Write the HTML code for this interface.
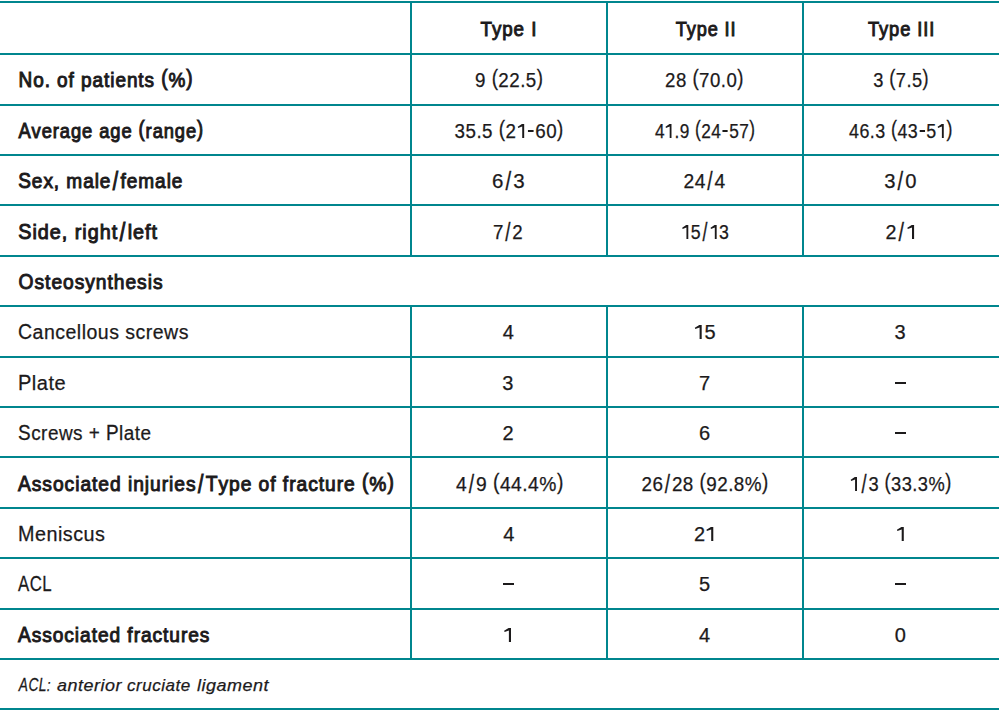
<!DOCTYPE html>
<html><head><meta charset="utf-8"><style>
html,body{margin:0;padding:0;background:#fff;}
body{width:1000px;height:713px;position:relative;overflow:hidden;font-family:"Liberation Sans",sans-serif;color:#1c1a1b;font-size:20px;}
.h{position:absolute;left:0;width:999px;height:2px;background:#00868e;}
.v{position:absolute;width:2px;background:#00868e;}
.t{position:absolute;white-space:nowrap;line-height:20px;height:20px;-webkit-text-stroke:0.25px #1c1a1b;letter-spacing:0.5px;}
.b{font-weight:normal;-webkit-text-stroke:0.95px #1c1a1b;letter-spacing:1px;}
.c{width:194px;text-align:center;}
.d{position:absolute;height:2px;background:#1c1a1b;}
.f{font-style:italic;}
.sl{display:inline-block;margin:0 1.5px;transform:scaleY(1.27);}
.hy{display:inline-block;width:6px;height:2px;background:#1c1a1b;vertical-align:6px;margin:0 1.5px;}
.one{vertical-align:baseline;fill:#1c1a1b;}
.cp{display:inline-block;transform:scaleY(1.07);transform-origin:50% 16.93px;}
.pa{display:inline-block;transform:translateY(-3px) scaleY(1.14);}
</style></head><body>

<div class="h" style="top:1px"></div>
<div class="h" style="top:53px"></div>
<div class="h" style="top:104px"></div>
<div class="h" style="top:154px"></div>
<div class="h" style="top:204px"></div>
<div class="h" style="top:255px"></div>
<div class="h" style="top:305px"></div>
<div class="h" style="top:356px"></div>
<div class="h" style="top:406px"></div>
<div class="h" style="top:456px"></div>
<div class="h" style="top:507px"></div>
<div class="h" style="top:557px"></div>
<div class="h" style="top:608px"></div>
<div class="h" style="top:658px"></div>
<div class="h" style="top:708px"></div>
<div class="v" style="left:410px;top:1px;height:256px"></div>
<div class="v" style="left:410px;top:305px;height:355px"></div>
<div class="v" style="left:606px;top:1px;height:256px"></div>
<div class="v" style="left:606px;top:305px;height:355px"></div>
<div class="v" style="left:802px;top:1px;height:256px"></div>
<div class="v" style="left:802px;top:305px;height:355px"></div>
<div class="t b c" style="left:412px;top:19.07px;transform:translateX(1.80px) scaleX(0.9379);transform-origin:67.00px 50%;">Type I</div>
<div class="t b c" style="left:608px;top:19.07px;transform:translateX(4.30px) scaleX(0.9062);transform-origin:63.00px 50%;">Type II</div>
<div class="t b c" style="left:804px;top:19.07px;transform:translateX(3.70px) scaleX(0.9155);transform-origin:60.00px 50%;">Type III</div>
<div class="t b" style="left:18px;top:70.07px;transform:translateX(0.50px) scaleX(0.9478);transform-origin:1.00px 50%;"><span class="cp">N</span>o. of patients <span class="pa">(</span>%<span class="pa">)</span></div>
<div class="t c" style="left:412px;top:70.07px;transform:translateX(2.50px) scaleX(0.9380);transform-origin:61.00px 50%;">9 <span class="pa">(</span>22.5<span class="pa">)</span></div>
<div class="t c" style="left:608px;top:70.07px;transform:translateX(2.30px) scaleX(0.9317);transform-origin:56.00px 50%;">28 <span class="pa">(</span>70.0<span class="pa">)</span></div>
<div class="t c" style="left:804px;top:70.07px;transform:translateX(2.80px) scaleX(0.9119);transform-origin:67.00px 50%;">3 <span class="pa">(</span>7.5<span class="pa">)</span></div>
<div class="t b" style="left:18px;top:121.07px;transform:translateX(0.40px) scaleX(0.9174);transform-origin:0.00px 50%;"><span class="cp">A</span>verage age <span class="pa">(</span>range<span class="pa">)</span></div>
<div class="t c" style="left:412px;top:121.07px;transform:translateX(3.70px) scaleX(0.9391);transform-origin:39.00px 50%;">35.5 <span class="pa">(</span>2<svg class="one" width="11.12" height="16" viewBox="0 0 11.12 16"><path d="M8 2V16H5.9V4.4L1.6 6.1L1.1 4.8L5.6 2Z"/></svg><span class="hy"></span>60<span class="pa">)</span></div>
<div class="t c" style="left:608px;top:121.07px;transform:translateX(8.10px) scaleX(0.8635);transform-origin:39.00px 50%;">4<svg class="one" width="11.12" height="16" viewBox="0 0 11.12 16"><path d="M8 2V16H5.9V4.4L1.6 6.1L1.1 4.8L5.6 2Z"/></svg>.9 <span class="pa">(</span>24<span class="hy"></span>57<span class="pa">)</span></div>
<div class="t c" style="left:804px;top:121.07px;transform:translateX(6.20px) scaleX(0.8922);transform-origin:39.00px 50%;">46.3 <span class="pa">(</span>43<span class="hy"></span>5<svg class="one" width="11.12" height="16" viewBox="0 0 11.12 16"><path d="M8 2V16H5.9V4.4L1.6 6.1L1.1 4.8L5.6 2Z"/></svg><span class="pa">)</span></div>
<div class="t b" style="left:18px;top:171.07px;transform:translateX(0.20px) scaleX(0.9517);transform-origin:0.00px 50%;"><span class="cp">S</span>ex, male<span class="sl">/</span>female</div>
<div class="t c" style="left:412px;top:171.07px;transform:translateX(-0.70px) scaleX(1.0233);transform-origin:82.00px 50%;">6<span class="sl">/</span>3</div>
<div class="t c" style="left:608px;top:171.07px;transform:translateX(0.40px) scaleX(0.9619);transform-origin:76.00px 50%;">24<span class="sl">/</span>4</div>
<div class="t c" style="left:804px;top:171.07px;transform:translateX(-0.50px) scaleX(1.0097);transform-origin:81.00px 50%;">3<span class="sl">/</span>0</div>
<div class="t b" style="left:18px;top:222.07px;transform:translateX(0.20px) scaleX(0.9894);transform-origin:0.00px 50%;"><span class="cp">S</span>ide, right<span class="sl">/</span>left</div>
<div class="t c" style="left:412px;top:222.07px;transform:translateX(0.10px) scaleX(0.9333);transform-origin:82.00px 50%;">7<span class="sl">/</span>2</div>
<div class="t c" style="left:608px;top:222.07px;transform:translateX(3.10px) scaleX(0.8865);transform-origin:71.00px 50%;"><svg class="one" width="11.12" height="16" viewBox="0 0 11.12 16"><path d="M8 2V16H5.9V4.4L1.6 6.1L1.1 4.8L5.6 2Z"/></svg>5<span class="sl">/</span><svg class="one" width="11.12" height="16" viewBox="0 0 11.12 16"><path d="M8 2V16H5.9V4.4L1.6 6.1L1.1 4.8L5.6 2Z"/></svg>3</div>
<div class="t c" style="left:804px;top:222.07px;transform:translateX(0.50px) scaleX(0.9857);transform-origin:82.00px 50%;">2<span class="sl">/</span><svg class="one" width="11.12" height="16" viewBox="0 0 11.12 16"><path d="M8 2V16H5.9V4.4L1.6 6.1L1.1 4.8L5.6 2Z"/></svg></div>
<div class="t b" style="left:18px;top:272.07px;transform:translateX(0.60px) scaleX(0.9611);transform-origin:0.00px 50%;"><span class="cp">O</span>steosynthesis</div>
<div class="t" style="left:18px;top:322.07px;transform:translateX(0.00px) scaleX(0.9751);transform-origin:1.00px 50%;"><span class="cp">C</span>ancellous screws</div>
<div class="t c" style="left:412px;top:322.07px;transform:translateX(-0.45px) scaleX(1.0000);transform-origin:92.00px 50%;">4</div>
<div class="t c" style="left:608px;top:322.07px;transform:translateX(-0.30px) scaleX(1.0000);transform-origin:87.00px 50%;"><svg class="one" width="11.12" height="16" viewBox="0 0 11.12 16"><path d="M8 2V16H5.9V4.4L1.6 6.1L1.1 4.8L5.6 2Z"/></svg>5</div>
<div class="t c" style="left:804px;top:322.07px;transform:translateX(-0.80px) scaleX(1.0000);transform-origin:92.00px 50%;">3</div>
<div class="t" style="left:18px;top:373.07px;transform:translateX(0.00px) scaleX(1.0022);transform-origin:1.00px 50%;"><span class="cp">P</span>late</div>
<div class="t c" style="left:412px;top:373.07px;transform:translateX(-0.85px) scaleX(1.0000);transform-origin:92.00px 50%;">3</div>
<div class="t c" style="left:608px;top:373.07px;transform:translateX(-0.30px) scaleX(1.0000);transform-origin:92.00px 50%;">7</div>
<div class="d" style="left:895px;top:382px;width:11px"></div>
<div class="t" style="left:18px;top:423.07px;transform:translateX(0.00px) scaleX(0.9468);transform-origin:1.00px 50%;"><span class="cp">S</span>crews + <span class="cp">P</span>late</div>
<div class="t c" style="left:412px;top:423.07px;transform:translateX(-0.75px) scaleX(1.0000);transform-origin:92.00px 50%;">2</div>
<div class="t c" style="left:608px;top:423.07px;transform:translateX(-0.30px) scaleX(1.0000);transform-origin:92.00px 50%;">6</div>
<div class="d" style="left:895px;top:432px;width:11px"></div>
<div class="t b" style="left:18px;top:474.07px;transform:translateX(0.00px) scaleX(0.9610);transform-origin:0.00px 50%;"><span class="cp">A</span>ssociated injuries<span class="sl">/</span><span class="cp">T</span>ype of fracture <span class="pa">(</span>%<span class="pa">)</span></div>
<div class="t c" style="left:412px;top:474.07px;transform:translateX(3.00px) scaleX(0.9627);transform-origin:41.00px 50%;">4<span class="sl">/</span>9 <span class="pa">(</span>44.4%<span class="pa">)</span></div>
<div class="t c" style="left:608px;top:474.07px;transform:translateX(4.00px) scaleX(0.9421);transform-origin:30.00px 50%;">26<span class="sl">/</span>28 <span class="pa">(</span>92.8%<span class="pa">)</span></div>
<div class="t c" style="left:804px;top:474.07px;transform:translateX(4.60px) scaleX(0.9138);transform-origin:42.00px 50%;"><svg class="one" width="11.12" height="16" viewBox="0 0 11.12 16"><path d="M8 2V16H5.9V4.4L1.6 6.1L1.1 4.8L5.6 2Z"/></svg><span class="sl">/</span>3 <span class="pa">(</span>33.3%<span class="pa">)</span></div>
<div class="t" style="left:18px;top:524.07px;transform:translateX(0.00px) scaleX(0.9884);transform-origin:1.00px 50%;"><span class="cp">M</span>eniscus</div>
<div class="t c" style="left:412px;top:524.07px;">4</div>
<div class="t c" style="left:608px;top:524.07px;transform:translateX(0.30px) scaleX(1.0000);transform-origin:87.00px 50%;">2<svg class="one" width="11.12" height="16" viewBox="0 0 11.12 16"><path d="M8 2V16H5.9V4.4L1.6 6.1L1.1 4.8L5.6 2Z"/></svg></div>
<div class="t c" style="left:804px;top:524.07px;transform:translateX(0.80px) scaleX(1.0000);transform-origin:92.00px 50%;"><svg class="one" width="11.12" height="16" viewBox="0 0 11.12 16"><path d="M8 2V16H5.9V4.4L1.6 6.1L1.1 4.8L5.6 2Z"/></svg></div>
<div class="t" style="left:18px;top:574.07px;transform:translateX(0.00px) scaleX(0.8410);transform-origin:0.00px 50%;"><span class="cp">A</span><span class="cp">C</span><span class="cp">L</span></div>
<div class="d" style="left:503px;top:583px;width:11px"></div>
<div class="t c" style="left:608px;top:574.07px;transform:translateX(-0.10px) scaleX(1.0000);transform-origin:92.00px 50%;">5</div>
<div class="d" style="left:895px;top:583px;width:11px"></div>
<div class="t b" style="left:18px;top:625.07px;transform:translateX(0.00px) scaleX(0.9560);transform-origin:0.00px 50%;"><span class="cp">A</span>ssociated fractures</div>
<div class="t c" style="left:412px;top:625.07px;"><svg class="one" width="11.12" height="16" viewBox="0 0 11.12 16"><path d="M8 2V16H5.9V4.4L1.6 6.1L1.1 4.8L5.6 2Z"/></svg></div>
<div class="t c" style="left:608px;top:625.07px;transform:translateX(-0.20px) scaleX(1.0000);transform-origin:92.00px 50%;">4</div>
<div class="t c" style="left:804px;top:625.07px;transform:translateX(-0.40px) scaleX(1.0000);transform-origin:92.00px 50%;">0</div>
<div class="t f" style="left:19.10px;top:676.11px;font-size:17px;transform:scaleX(0.8100);transform-origin:-1.00px 50%"><span class="cp">A</span><span class="cp">C</span><span class="cp">L</span>:</div>
<div class="t f" style="left:56.60px;top:676.11px;font-size:17px;transform:scaleX(1.0548);transform-origin:0.00px 50%">anterior</div>
<div class="t f" style="left:127.40px;top:676.11px;font-size:17px;transform:scaleX(1.0032);transform-origin:0.00px 50%">cruciate</div>
<div class="t f" style="left:196.70px;top:676.11px;font-size:17px;transform:scaleX(1.0565);transform-origin:0.00px 50%">ligament</div>
</body></html>
